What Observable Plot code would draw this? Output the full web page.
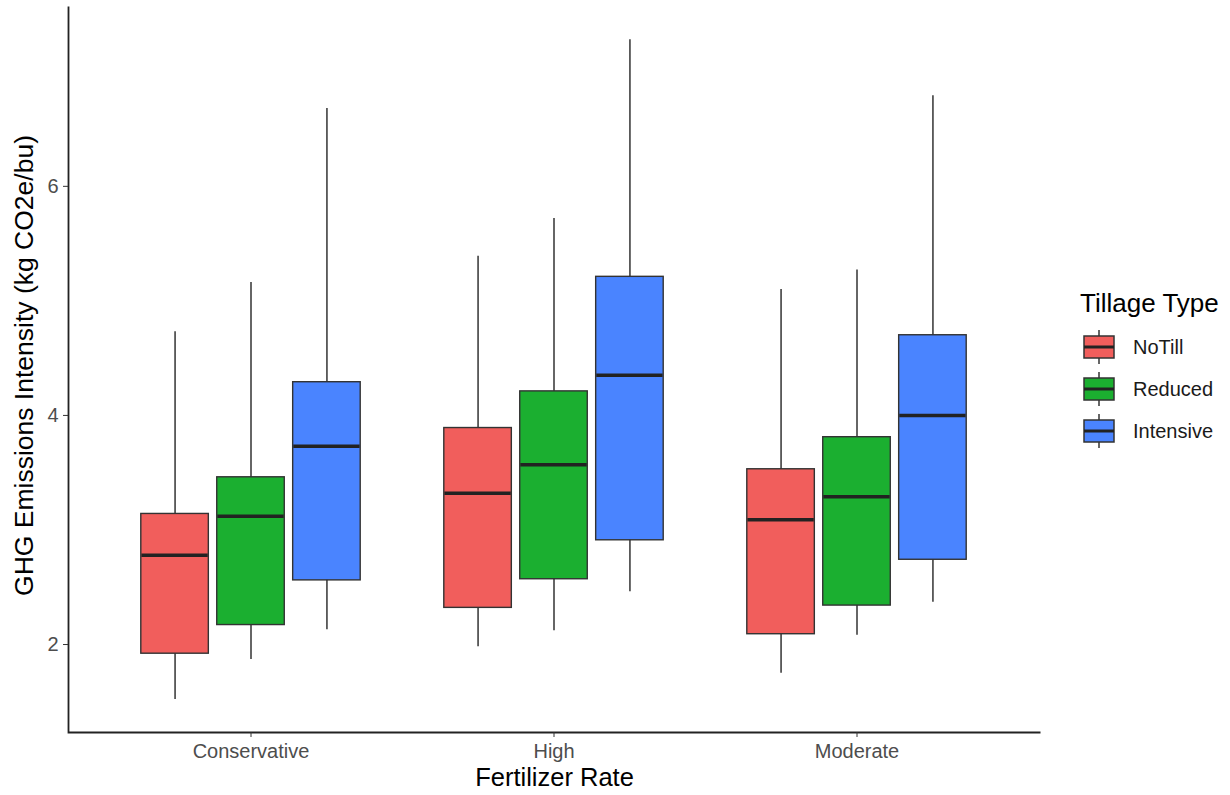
<!DOCTYPE html>
<html>
<head>
<meta charset="utf-8">
<script src="https://cdn.jsdelivr.net/npm/d3@7"></script>
<script src="https://cdn.jsdelivr.net/npm/@observablehq/plot@0.6"></script>
<style>
  html, body { margin: 0; padding: 0; background: #fff; }
  body { font-family: "Liberation Sans", Arial, sans-serif; }
  #wrap { position: relative; width: 1230px; height: 795px; }
  .legtitle { position: absolute; left: 1080px; font-size: 26px; line-height: 30px; color: #000; }
  .legrow { position: absolute; left: 1082px; height: 40px; display: flex; align-items: center; }
  .legrow span { font-size: 20px; margin-left: 17px; color: #1a1a1a; }
</style>
</head>
<body>
<div id="wrap"></div>
<script>
// ---- data ----
const fertilizer = ["Conservative", "High", "Moderate"];
const tillage = ["NoTill", "Reduced", "Intensive"];
const tillageColors = ["#F15E5C", "#1BAF30", "#4A84FF"];
// order: Conservative (NoTill, Reduced, Intensive), High (...), Moderate (...)
const whiskerLow = [1.52, 1.87, 2.13, 1.98, 2.12, 2.46, 1.75, 2.08, 2.37];
const q1         = [1.92, 2.17, 2.56, 2.32, 2.57, 2.91, 2.09, 2.34, 2.74];
const median     = [2.78, 3.12, 3.73, 3.32, 3.57, 4.35, 3.09, 3.29, 4.00];
const q3         = [3.14, 3.46, 4.29, 3.89, 4.21, 5.21, 3.53, 3.81, 4.70];
const whiskerHigh= [4.73, 5.16, 6.68, 5.39, 5.72, 7.28, 5.10, 5.27, 6.79];
const yTicks = [2, 4, 6];
const xTitle = "Fertilizer Rate";
const yTitle = "GHG Emissions Intensity (kg CO2e/bu)";
const legendTitle = "Tillage Type";

const rows = [];
fertilizer.forEach((f, i) => tillage.forEach((t, j) => {
  const k = i * 3 + j;
  rows.push({fert: f, till: t, lo: whiskerLow[k], q1: q1[k], med: median[k], q3: q3[k], hi: whiskerHigh[k]});
}));

const W = 1230, H = 795;
const mL = 68, mR = 190, mT = 6, mB = 63;
const plotW = W - mL - mR;
const plotH = H - mT - mB;
const step = plotW / (3 - 0.25 + 2 * 0.225);
const band = step * 0.75;
const sub = band / 3;
const boxW = sub * 0.9;
const inset = (band - boxW) / 2;

const marks = [];
tillage.forEach((t, j) => {
  const data = rows.filter(d => d.till === t);
  const dx = (j - 1) * sub;
  marks.push(
    Plot.ruleX(data, {x: "fert", y1: "lo", y2: "hi", dx, stroke: "#333", strokeWidth: 1.5}),
    Plot.barY(data, {x: "fert", y1: "q1", y2: "q3", dx, insetLeft: inset, insetRight: inset,
      fill: tillageColors[j], stroke: "#333", strokeWidth: 1.4}),
    Plot.tickY(data, {x: "fert", y: "med", dx, insetLeft: inset + 0.6, insetRight: inset + 0.6,
      stroke: "#222", strokeWidth: 3.5})
  );
});

const chart = Plot.plot({
  width: W, height: H,
  marginLeft: mL, marginRight: mR, marginTop: mT, marginBottom: mB,
  style: {fontFamily: "Liberation Sans, Arial, sans-serif", background: "#fff"},
  x: {domain: fertilizer, paddingInner: 0.25, paddingOuter: 0.225, label: null},
  y: {domain: [1.232, 7.57], label: null},
  marks: [
    ...marks,
    Plot.frame({stroke: "#222", strokeWidth: 1.8,
      strokeDasharray: `0 ${plotW + plotH} ${plotW + plotH + 2}`}),
    Plot.axisY(yTicks, {tickSize: 5, tickPadding: 5, fontSize: 20, color: "#4d4d4d", stroke: "#333",
      tickFormat: d => String(d), label: null}),
    Plot.axisX({tickSize: 5, tickPadding: 6, fontSize: 20, color: "#4d4d4d", stroke: "#333", label: null}),
    Plot.text([yTitle], {frameAnchor: "left", dx: -44, dy: -4, rotate: -90, fontSize: 26.5, fill: "#000",
      textAnchor: "middle", lineAnchor: "middle"}),
    Plot.text([xTitle], {frameAnchor: "bottom", dy: 45, fontSize: 25.5, fill: "#000",
      textAnchor: "middle", lineAnchor: "middle"})
  ]
});
document.getElementById("wrap").appendChild(chart);

// legend
const wrap = document.getElementById("wrap");
const lt = document.createElement("div");
lt.className = "legtitle";
lt.style.top = "288px";
lt.textContent = legendTitle;
wrap.appendChild(lt);
tillage.forEach((t, j) => {
  const r = document.createElement("div");
  r.className = "legrow";
  r.style.top = (347 + 42 * j - 20) + "px";
  r.innerHTML = `<svg width="34" height="40" viewBox="0 0 34 40">
      <line x1="17" x2="17" y1="3" y2="37" stroke="#333" stroke-width="1.5"/>
      <rect x="2" y="9" width="30" height="22" fill="${tillageColors[j]}" stroke="#333" stroke-width="1.5"/>
      <line x1="2" x2="32" y1="20" y2="20" stroke="#222" stroke-width="3"/>
    </svg><span>${t}</span>`;
  wrap.appendChild(r);
});
</script>
</body>
</html>
